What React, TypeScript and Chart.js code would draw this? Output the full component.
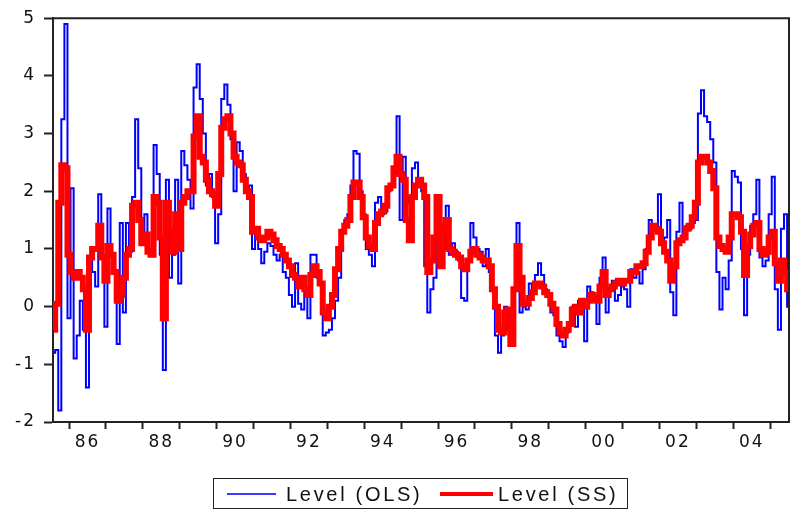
import React, { useEffect, useRef } from 'react';
import { Chart, registerables } from 'chart.js';

Chart.register(...registerables);

// Monthly observations starting August 1985
const START_YEAR = 1985;
const START_MONTH = 8;

const olsLevel = [
  -0.8, -0.75, -1.8, 3.25, 4.9, -0.2, 2.05, -0.9, -0.5, 0.1,
  -0.4, -1.4, 0.85, 0.6, 0.35, 1.95, 0.9, -0.35, 1.7, 0.9,
  0.6, -0.65, 1.45, -0.1, 1.45, 0.95, 1.9, 3.25, 2.4, 1.3,
  1.6, 0.95, 1.0, 2.8, 2.3, 0.9, -1.1, 2.2, 0.5, 0.9,
  2.2, 0.4, 2.7, 2.45, 2.2, 1.7, 3.8, 4.2, 3.6, 3.0,
  2.1, 2.3, 1.9, 1.1, 1.6, 3.6, 3.85, 3.5, 2.9, 2.0,
  2.85, 2.7, 2.3, 2.0, 2.1, 1.0, 1.35, 1.0, 0.75, 0.95,
  1.1, 1.05, 0.9, 0.8, 0.9, 0.6, 0.5, 0.2, 0.0, 0.75,
  0.05, -0.05, 0.3, -0.2, 0.9, 0.9, 0.5, 0.4, -0.5, -0.45,
  -0.4, -0.2, 0.1, 0.5, 1.3, 1.5, 1.6, 2.1, 2.7, 2.65,
  2.0, 1.6, 1.0, 0.9, 0.7, 1.8, 1.9, 1.6, 1.65, 2.0,
  2.1, 2.3, 3.3, 1.5, 2.6, 1.9, 1.8, 2.4, 2.5, 2.2,
  2.0, 0.7, -0.1, 0.3, 0.5, 1.75, 0.7, 1.0, 1.75, 0.9,
  1.1, 0.95, 0.8, 0.15, 0.1, 0.8, 1.45, 1.2, 1.0, 0.95,
  0.7, 1.0, 0.6, 0.3, -0.5, -0.8, -0.5, 0.0, -0.4, -0.6,
  0.3, 1.45, -0.1, 0.0, -0.05, 0.4, 0.3, 0.55, 0.75, 0.55,
  0.3, 0.2, -0.1, -0.15, -0.5, -0.6, -0.7, -0.45, -0.3, 0.0,
  -0.35, 0.1, 0.05, -0.6, 0.35, 0.25, 0.1, -0.3, 0.5, 0.85,
  -0.1, 0.3, 0.45, 0.1, 0.2, 0.35, 0.3, 0.0, 0.65, 0.5,
  0.6, 0.4, 0.65, 1.0, 1.5, 1.4, 1.35, 1.95, 1.1, 1.2,
  1.5, 0.25, -0.15, 1.3, 1.8, 1.2, 1.4, 1.35, 1.45, 1.5,
  3.35, 3.75, 3.3, 3.2, 2.9, 2.5, 0.6, -0.05, 0.5, 0.3,
  0.8, 2.35, 2.25, 2.15, 1.0, -0.15, 0.9, 1.4, 1.6, 2.2,
  0.85, 0.7, 0.8, 1.6, 2.25, 0.3, -0.4, 1.35, 1.6, 0.0,
];

const ssLevel = [
  -0.4, 0.05, 1.8, 2.45, 2.4, 0.9, 0.6, 0.5, 0.6, 0.5,
  0.3, -0.4, 0.85, 1.0, 1.0, 1.4, 0.85, 0.45, 1.05, 0.9,
  0.6, 0.1, 0.2, 0.5, 0.9, 1.0, 1.75, 1.8, 1.5, 1.1,
  1.25, 0.95, 0.9, 1.9, 1.8, 1.2, -0.2, 1.8, 1.3, 0.95,
  1.6, 1.0, 1.8, 1.9, 2.0, 2.0, 2.95, 3.3, 2.6, 2.5,
  2.2, 2.0, 1.95, 1.75, 2.3, 3.1, 3.25, 3.3, 3.0, 2.6,
  2.5, 2.45, 2.2, 2.0, 1.9, 1.3, 1.35, 1.2, 1.15, 1.2,
  1.3, 1.25, 1.15, 1.05, 1.0, 0.9, 0.8, 0.7, 0.55, 0.5,
  0.35, 0.5, 0.3, 0.2, 0.55, 0.7, 0.6, 0.4, -0.1, -0.2,
  0.0, 0.2, 0.65, 1.0, 1.3, 1.4, 1.5, 1.9, 2.15, 2.15,
  1.9, 1.55, 1.2, 1.05, 1.0, 1.45, 1.6, 1.65, 1.75, 2.05,
  2.1, 2.4, 2.6, 2.3, 2.2, 1.5, 1.15, 1.9, 2.1, 2.2,
  2.1, 1.9, 0.6, 0.8, 1.2, 1.9, 0.7, 1.4, 1.5, 1.0,
  0.95, 0.9, 0.85, 0.7, 0.65, 0.8, 0.95, 1.0, 0.9, 0.85,
  0.8, 0.8, 0.7, 0.3, 0.0, -0.4, -0.45, -0.1, -0.05, -0.65,
  0.3, 1.05, 0.5, 0.05, 0.05, 0.15, 0.25, 0.4, 0.4, 0.35,
  0.25, 0.2, 0.05, -0.05, -0.3, -0.45, -0.5, -0.4, -0.3, -0.05,
  0.0, -0.1, 0.1, 0.0, 0.1, 0.2, 0.15, 0.1, 0.35, 0.6,
  0.2, 0.3, 0.35, 0.4, 0.45, 0.4, 0.45, 0.45, 0.6, 0.6,
  0.7, 0.7, 0.75, 0.95, 1.2, 1.4, 1.35, 1.3, 1.1, 0.95,
  0.8, 0.45, 0.7, 1.1, 1.15, 1.2, 1.35, 1.4, 1.55, 1.8,
  2.5, 2.6, 2.6, 2.5, 2.35, 2.05, 1.2, 1.05, 1.0, 0.95,
  1.2, 1.6, 1.6, 1.55, 1.3, 0.55, 1.05, 1.25, 1.4, 1.45,
  1.0, 0.9, 0.95, 1.2, 1.3, 0.75, 0.45, 0.8, 0.6, 0.3,
];

const yearTicks = [
  1986, 1987, 1988, 1989, 1990, 1991, 1992, 1993, 1994, 1995,
  1996, 1997, 1998, 1999, 2000, 2001, 2002, 2003, 2004, 2005,
];
const labelYears = [1986, 1988, 1990, 1992, 1994, 1996, 1998, 2000, 2002, 2004];
const yearLabels = ['86', '88', '90', '92', '94', '96', '98', '00', '02', '04'];
const yTicks = [-2, -1, 0, 1, 2, 3, 4, 5];
const X_MIN = 1985.566;
const X_MAX = 2005.51;

const TICK_FONT = 'DejaVu Sans';
const LEGEND_FONT = 'Liberation Sans';

export default function App() {
  const ref = useRef<HTMLCanvasElement>(null);

  useEffect(() => {
    const dates = olsLevel.map((_, i) => START_YEAR + (START_MONTH - 1 + i) / 12);

    const frame = {
      id: 'frame',
      afterDraw(chart: any) {
        const { ctx, chartArea: a } = chart;
        ctx.save();
        ctx.strokeStyle = '#222';
        ctx.lineWidth = 2;
        ctx.beginPath();
        ctx.moveTo(a.left, a.top);
        ctx.lineTo(a.right, a.top);
        ctx.lineTo(a.right, a.bottom);
        ctx.stroke();
        ctx.restore();
      },
    };
    const spacing = {
      id: 'spacing',
      beforeDraw(chart: any) {
        chart.ctx.letterSpacing = '2px';
      },
    };

    const chart = new Chart(ref.current!, {
      type: 'line',
      data: {
        datasets: [
          {
            label: 'Level (OLS)',
            data: dates.map((x, i) => ({ x, y: olsLevel[i] })),
            borderColor: '#0000ff',
            borderWidth: 2,
            pointRadius: 0,
            stepped: 'middle',
            order: 2,
          },
          {
            label: 'Level (SS)',
            data: dates.map((x, i) => ({ x, y: ssLevel[i] })),
            borderColor: '#ff0000',
            borderWidth: 6,
            pointRadius: 0,
            stepped: 'middle',
            order: 1,
          },
        ],
      },
      options: {
        animation: false,
        responsive: false,
        devicePixelRatio: 1,
        layout: { padding: { left: 0, top: 17, right: 7, bottom: 0 } },
        plugins: { legend: { display: false }, tooltip: { enabled: false } },
        scales: {
          x: {
            type: 'linear',
            min: X_MIN,
            max: X_MAX,
            afterBuildTicks: (s: any) => {
              s.ticks = [
                ...yearTicks.map((v) => ({ value: v })),
                ...labelYears.map((y) => ({ value: y + 0.5 })),
              ].sort((a, b) => a.value - b.value);
            },
            afterFit: (s: any) => {
              s.height = 92;
            },
            ticks: {
              autoSkip: false,
              maxRotation: 0,
              minRotation: 0,
              padding: 3,
              color: '#111',
              font: { family: TICK_FONT, size: 17 },
              callback: (v: any) => {
                const i = labelYears.indexOf(Math.round((Number(v) - 0.5) * 10) / 10);
                return Number.isInteger(Number(v)) || i < 0 ? '' : yearLabels[i];
              },
            },
            grid: {
              drawOnChartArea: false,
              drawTicks: true,
              tickLength: 7,
              tickWidth: 2,
              tickColor: (c: any) =>
                c.tick && Number.isInteger(c.tick.value) ? '#222' : 'rgba(0,0,0,0)',
            },
            border: { display: true, color: '#222', width: 2 },
          },
          y: {
            min: -2,
            max: 5,
            afterBuildTicks: (s: any) => {
              s.ticks = yTicks.map((v) => ({ value: v }));
            },
            afterFit: (s: any) => {
              s.width = 53;
            },
            ticks: {
              padding: 8,
              color: '#111',
              font: { family: TICK_FONT, size: 17 },
              callback: (v: any) => String(v),
            },
            grid: {
              drawOnChartArea: false,
              drawTicks: true,
              tickLength: 9,
              tickWidth: 2,
              tickColor: '#222',
            },
            border: { display: true, color: '#222', width: 2 },
          },
        },
      },
      plugins: [spacing, frame],
    } as any);
    return () => chart.destroy();
  }, []);

  const textStyle: React.CSSProperties = {
    position: 'absolute',
    top: 4,
    fontFamily: LEGEND_FONT,
    fontSize: 20,
    letterSpacing: '2.7px',
    color: '#111',
    lineHeight: '22px',
    whiteSpace: 'nowrap',
  };

  return (
    <div style={{ position: 'absolute', left: 0, top: 0, width: 796, height: 514, background: '#fff' }}>
      <canvas ref={ref} width={796} height={514} style={{ display: 'block' }} />
      <div
        style={{
          position: 'absolute',
          left: 213,
          top: 478,
          width: 415,
          height: 31,
          border: '1px solid #222',
          boxSizing: 'border-box',
        }}
      >
        <div style={{ position: 'absolute', left: 13, top: 14, width: 49, height: 2, background: '#3a3aff' }} />
        <div style={{ ...textStyle, left: 72 }}>Level (OLS)</div>
        <div style={{ position: 'absolute', left: 226, top: 13, width: 53, height: 4, background: '#ff0000' }} />
        <div style={{ ...textStyle, left: 284 }}>Level (SS)</div>
      </div>
    </div>
  );
}
